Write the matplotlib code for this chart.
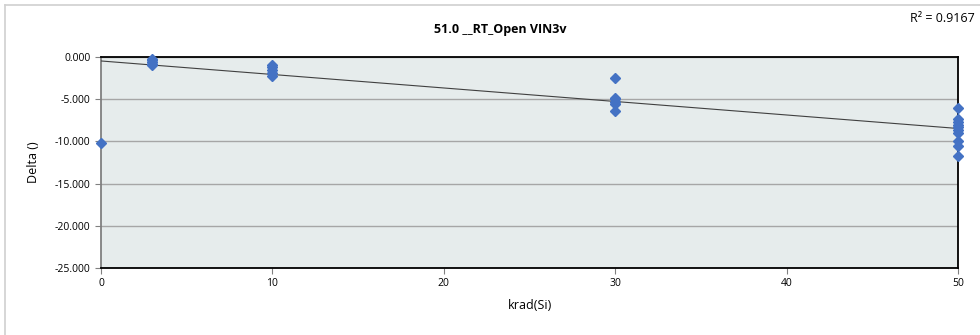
import matplotlib.pyplot as plt
from matplotlib.lines import Line2D

x_0 = [0]
y_0 = [-10.2]
x_3 = [3, 3, 3, 3, 3]
y_3 = [-0.2, -0.4, -0.6, -0.8, -1.0]
x_10 = [10, 10, 10, 10, 10]
y_10 = [-0.9, -1.2, -1.5, -1.9, -2.2]
x_30 = [30, 30, 30, 30, 30, 30]
y_30 = [-2.5, -4.8, -5.0, -5.3, -5.6, -6.4]
x_50 = [50, 50, 50, 50, 50, 50, 50, 50, 50, 50]
y_50 = [-6.1, -7.4, -7.7, -8.0, -8.3, -8.6, -9.0, -10.0, -10.6, -11.7]

trend_intercept = -0.47
trend_slope = -0.160
r_squared = 0.9167

y_ticks = [0, -5, -10, -15, -20, -25]
x_ticks = [0, 10, 20, 30, 40, 50]

plt.rcParams["font.family"] = ["Open Sans", "DejaVu Sans"]

fig = plt.figure(figsize=(9.8, 3.35), dpi=100)
ax = fig.add_axes([101 / 980, 1 - 268 / 335, (958 - 101) / 980, (268 - 57) / 335])
ax.set_facecolor("#E6ECEC")

xs = x_0 + x_3 + x_10 + x_30 + x_50
ys = y_0 + y_3 + y_10 + y_30 + y_50
ax.plot(xs, ys, linestyle="none", marker="D", markersize=4.8,
        color="#4472C4", clip_on=False, zorder=4)

tx = [min(x_ticks), max(x_ticks)]
ty = [trend_intercept + trend_slope * v for v in tx]
ax.plot(tx, ty, color="#404040", linewidth=0.8, zorder=3)

ax.set_xlim(0, 50)
ax.set_ylim(-25, 0)
ax.set_xticks(x_ticks)
ax.set_yticks(y_ticks)
ax.set_yticklabels([f"{v:.3f}" for v in y_ticks])
ax.yaxis.grid(True, color="#A6A6A6", linewidth=1.0)
ax.set_axisbelow(True)
ax.tick_params(axis="both", labelsize=7.5, length=4, color="#808080", direction="out")

for side in ("top", "right", "bottom"):
    ax.spines[side].set_color("black")
    ax.spines[side].set_linewidth(1.3)
ax.spines["left"].set_color("#808080")
ax.spines["left"].set_linewidth(1.3)

ax.set_xlabel("krad(Si)", fontsize=9, labelpad=7)
ax.set_ylabel("Delta ()", fontsize=9, labelpad=11)
fig.text(0.51, 1 - 30 / 335, "51.0 __RT_Open VIN3v", fontsize=9, fontweight="bold",
         ha="center", va="center")
fig.text(0.995, 1 - 18 / 335, "R\u00b2 = " + str(r_squared), fontsize=9,
         ha="right", va="center")

# chart frame edges visible in the screenshot
fig.add_artist(Line2D([5 / 980, 5 / 980], [0, 1 - 5 / 335], color="#D0D0D0", linewidth=1.2))
fig.add_artist(Line2D([5 / 980, 1], [1 - 5 / 335, 1 - 5 / 335], color="#D0D0D0", linewidth=1.2))

fig.savefig("out.png", dpi=100)
plt.close(fig)
